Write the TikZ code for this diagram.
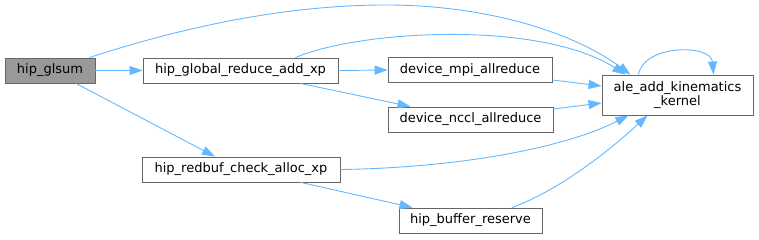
\documentclass[tikz,border=0pt]{standalone}
\usepackage{fontspec}
\setmainfont{DejaVu Sans}
\usetikzlibrary{arrows.meta}
\definecolor{edgec}{HTML}{63B8FF}
\definecolor{bord}{HTML}{666666}
\definecolor{fillg}{HTML}{999999}
\begin{document}
\begin{tikzpicture}[x=1pt,y=-1pt,
  box/.style={draw=bord, line width=0.9pt, fill=white, inner sep=0pt,
    font=\fontsize{13}{14}\selectfont, minimum height=25pt, align=center},
  edge/.style={draw=edgec, line width=0.9pt, -{Triangle[length=13pt,width=9pt]}}]
\useasboundingbox (0,0) rectangle (759,239);

\node[box, fill=fillg, minimum width=90pt] (glsum) at (50,70.5) {hip\_glsum};
\node[box, minimum width=195pt] (global) at (240.5,70.5) {hip\_global\_reduce\_add\_xp};
\node[box, minimum width=164pt] (mpi) at (470,70) {device\_mpi\_allreduce};
\node[box, minimum width=165pt] (nccl) at (470.5,119.5) {device\_nccl\_allreduce};
\node[box, minimum width=151pt, minimum height=40pt] (ale) at (677.5,95) {ale\_add\_kinematics\\\_kernel};
\node[box, minimum width=198pt] (redbuf) at (241,169.5) {hip\_redbuf\_check\_alloc\_xp};
\node[box, minimum width=143pt] (buffer) at (470.5,220.5) {hip\_buffer\_reserve};

\draw[edge] (glsum.east) -- (global.west);
\draw[edge] ([xshift=-6pt]glsum.north east) .. controls (180,28) and (280,6) .. (380,5)
  .. controls (480,4) and (570,30) .. ([xshift=-47pt]ale.north);
\draw[edge] ([xshift=26pt]glsum.south) -- ([xshift=-26pt]redbuf.north);
\draw[edge] ([xshift=55pt]global.north) .. controls (360,30) and (540,20) .. ([xshift=-52pt]ale.north);
\draw[edge] (global.east) -- (mpi.west);
\draw[edge] ([xshift=60pt]global.south) -- ([xshift=-60pt]nccl.north);
\draw[edge] ([yshift=-10pt]mpi.east) -- ([yshift=9pt]ale.west);
\draw[edge] ([yshift=10.5pt]nccl.east) -- ([yshift=-8pt]ale.west);
\draw[edge] ([xshift=-39pt]ale.north) .. controls (644,44) and (711,44) .. ([xshift=36pt]ale.north);
\draw[edge] (redbuf.east) .. controls (450,168) and (560,150) .. ([xshift=-49pt]ale.south);
\draw[edge] ([xshift=60pt]redbuf.south) -- ([xshift=-58pt]buffer.north);
\draw[edge] ([xshift=41.5pt]buffer.north) .. controls (560,190) and (610,150) .. ([xshift=-30pt]ale.south);
\end{tikzpicture}
\end{document}
